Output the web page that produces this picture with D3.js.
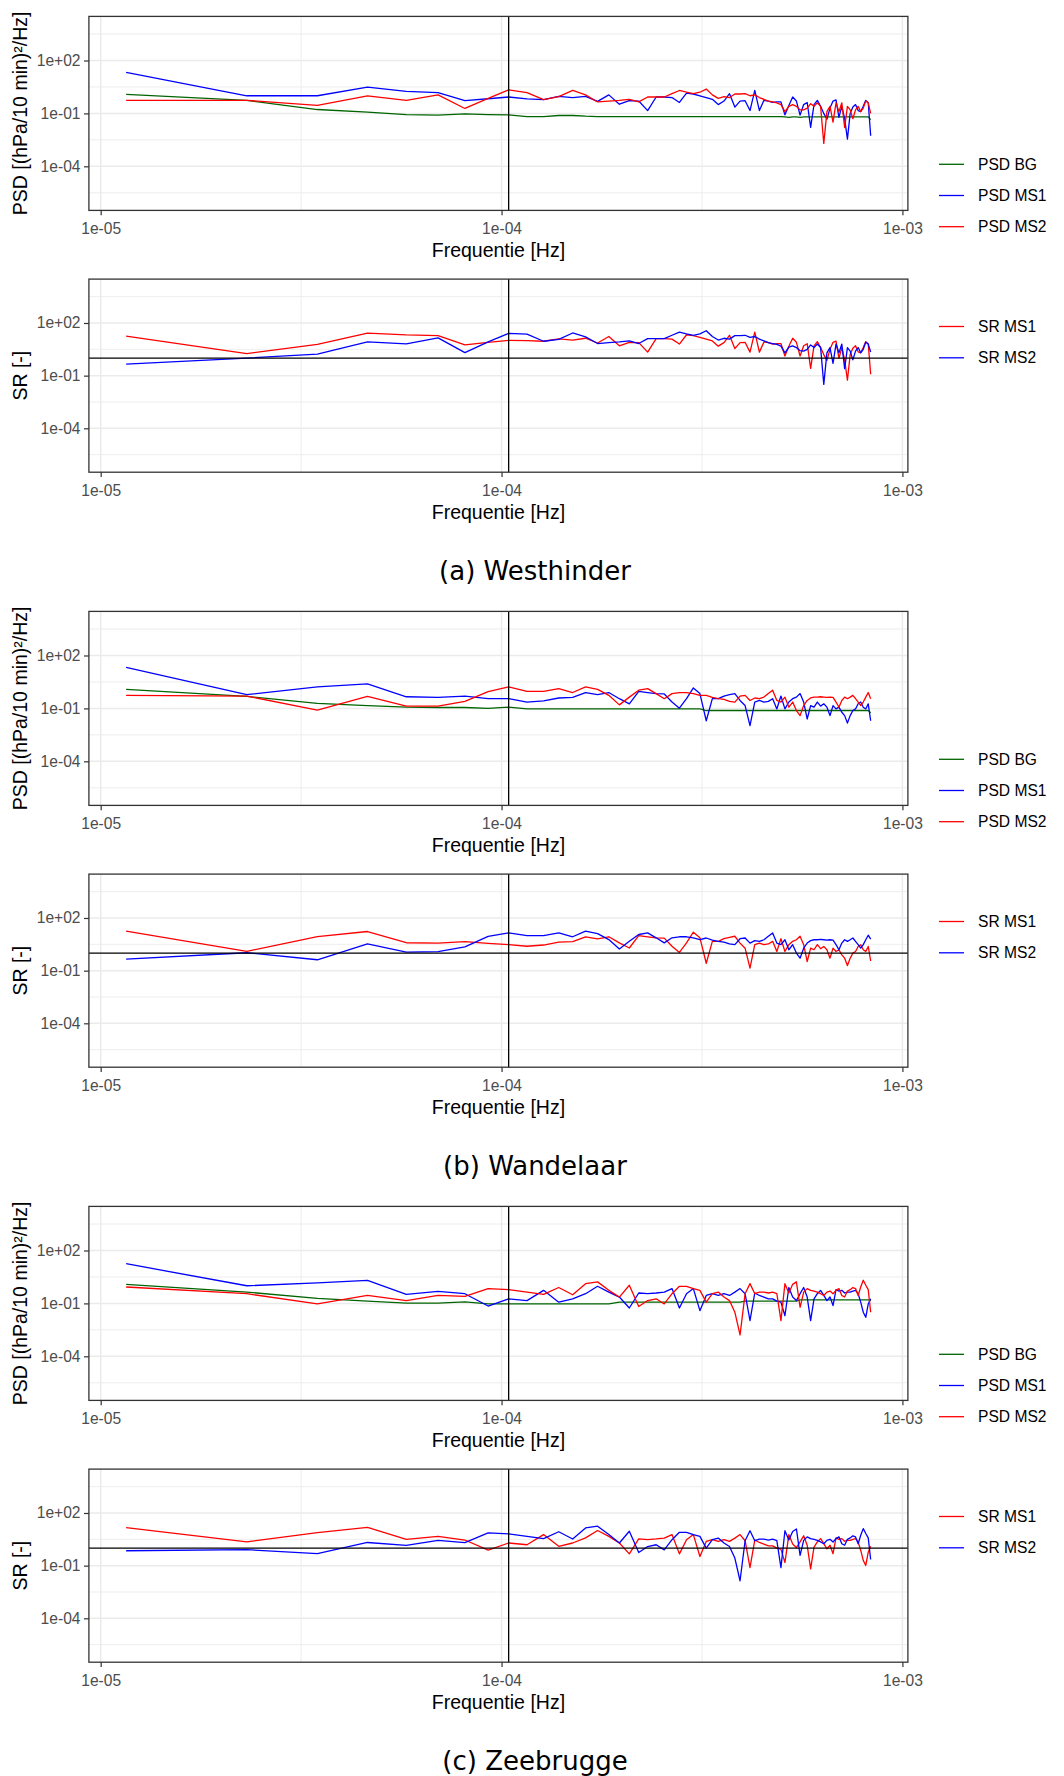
<!DOCTYPE html>
<html>
<head>
<meta charset="utf-8">
<script src="https://cdn.jsdelivr.net/npm/d3@7"></script>
<style>
  html, body { margin: 0; padding: 0; background: #ffffff; }
  svg { display: block; }
</style>
</head>
<body>
<svg id="fig" width="1064" height="1776"></svg>
<script>
// Frequency grid: harmonics of a one-day record of 10-minute values (up to Nyquist, 1/1200 Hz)
const harmonic = [
  1, 2, 3, 4, 5, 6, 7, 8, 9, 10, 11, 12, 13, 14, 15, 16, 17, 18, 19, 20,
  21, 22, 23, 24, 25, 26, 27, 28, 29, 30, 31, 32, 33, 34, 35, 36, 37, 38, 39, 40,
  41, 42, 43, 44, 45, 46, 47, 48, 49, 50, 51, 52, 53, 54, 55, 56, 57, 58, 59, 60,
  61, 62, 63, 64, 65, 66, 67, 68, 69, 70, 71, 72
];
const RECORD_SECONDS = 86400;

// PSD values, stored as log10 of (hPa/10 min)^2/Hz, one entry per harmonic
const westhinderBG = [
  0.08, -0.26, -0.78, -0.93, -1.07, -1.1, -1.03, -1.07, -1.08, -1.18,
  -1.18, -1.12, -1.12, -1.16, -1.18, -1.18, -1.18, -1.18, -1.18, -1.18,
  -1.18, -1.18, -1.18, -1.18, -1.18, -1.18, -1.18, -1.18, -1.18, -1.18,
  -1.18, -1.18, -1.18, -1.18, -1.18, -1.18, -1.18, -1.18, -1.18, -1.18,
  -1.18, -1.18, -1.18, -1.2, -1.22, -1.2, -1.2, -1.22, -1.2, -1.2,
  -1.2, -1.2, -1.2, -1.2, -1.2, -1.2, -1.2, -1.2, -1.2, -1.2,
  -1.2, -1.2, -1.2, -1.2, -1.2, -1.2, -1.2, -1.2, -1.2, -1.2,
  -1.2, -1.35
];
const westhinderMS1 = [
  1.33, 0.0, 0.0, 0.49, 0.25, 0.18, -0.28, -0.17, -0.07, -0.18,
  -0.22, -0.03, -0.1, -0.03, -0.32, 0.05, -0.48, -0.28, -0.3, -0.84,
  -0.07, -0.07, -0.1, -0.38, 0.15, 0.1, 0.0, -0.1, -0.2, -0.5,
  -0.3, 0.12, -0.64, -0.3, -0.28, -0.84, 0.3, -0.84, -0.26, -0.3,
  -0.38, -0.35, -0.35, -1.08, -0.55, -0.07, -0.3, -1.1, -0.5, -0.38,
  -1.79, -0.5, -0.26, -0.6, -1.0, -1.33, -0.7, -0.3, -0.23, -1.22,
  -0.6, -1.3, -2.46, -1.0, -0.64, -0.5, -0.84, -0.9, -0.6, -0.26,
  -0.4, -2.27
];
const westhinderMS2 = [
  -0.26, -0.26, -0.55, -0.01, -0.26, 0.05, -0.72, -0.15, 0.33, 0.18,
  -0.22, -0.05, 0.31, 0.05, -0.35, -0.3, -0.26, -0.2, -0.35, -0.07,
  -0.07, -0.07, 0.12, 0.3, 0.2, 0.12, 0.2, 0.38, 0.05, -0.15,
  -0.05, -0.1, 0.1, 0.1, 0.12, 0.0, 0.05, -0.1, -0.2, -0.3,
  -0.35, -0.4, -0.5, -0.9, -0.6, -0.5, -0.6, -0.8, -0.8, -0.7,
  -0.45, -0.6, -0.4, -0.6, -2.7, -0.9, -0.6, -1.5, -0.4, -0.9,
  -0.4, -1.8, -0.6, -0.8, -1.3, -0.8, -0.6, -0.9, -0.7, -0.3,
  -0.4, -1.0
];

const wandelaarBG = [
  0.08, -0.32, -0.72, -0.84, -0.93, -0.95, -0.95, -1.0, -0.93, -1.03,
  -1.03, -1.03, -1.03, -1.03, -1.03, -1.03, -1.03, -1.03, -1.03, -1.03,
  -1.03, -1.03, -1.03, -1.03, -1.03, -1.03, -1.03, -1.12, -1.12, -1.12,
  -1.12, -1.12, -1.12, -1.12, -1.12, -1.12, -1.12, -1.12, -1.12, -1.12,
  -1.12, -1.12, -1.12, -1.12, -1.12, -1.12, -1.12, -1.12, -1.12, -1.12,
  -1.12, -1.12, -1.12, -1.12, -1.12, -1.12, -1.12, -1.12, -1.12, -1.12,
  -1.12, -1.12, -1.12, -1.12, -1.12, -1.12, -1.12, -1.12, -1.12, -1.12,
  -1.12, -1.25
];
const wandelaarMS1 = [
  1.33, -0.22, 0.22, 0.39, -0.34, -0.38, -0.3, -0.45, -0.45, -0.64,
  -0.57, -0.41, -0.38, -0.1, -0.22, -0.1, -0.45, -0.74, -0.03, -0.1,
  -0.16, -0.18, -0.64, -0.99, -0.45, 0.16, -0.16, -1.7, -0.45, -0.45,
  -0.3, -0.22, -0.16, -0.55, -0.84, -1.98, -0.64, -0.55, -0.64, -0.6,
  -0.45, -1.03, -0.3, -1.03, -0.64, -0.45, -0.36, -0.16, -0.64, -1.6,
  -0.84, -0.93, -0.64, -0.87, -0.74, -0.93, -1.41, -0.84, -1.03, -0.93,
  -1.22, -1.41, -1.83, -1.41, -1.12, -1.03, -0.74, -0.64, -0.93, -1.03,
  -0.74, -1.7
];
const wandelaarMS2 = [
  -0.26, -0.3, -1.1, -0.32, -0.87, -0.87, -0.6, -0.05, 0.22, -0.03,
  -0.03, 0.12, -0.1, 0.22, 0.08, -0.26, -0.8, -0.36, 0.03, 0.12,
  -0.16, -0.45, -0.16, -0.1, -0.1, -0.16, -0.26, -0.26, -0.38, -0.45,
  -0.49, -0.6, -0.64, -0.3, -0.26, -0.55, -0.41, -0.45, -0.36, -0.16,
  0.03, -0.55, -0.64, -0.36, -0.93, -0.64, -1.12, -1.41, -0.84, -0.55,
  -0.41, -0.36, -0.36, -0.34, -0.36, -0.38, -0.36, -0.38, -0.64, -0.93,
  -0.55, -0.36, -0.45, -0.36, -0.26, -0.45, -0.64, -0.84, -0.64, -0.36,
  -0.1, -0.45
];

const zeebruggeBG = [
  0.08, -0.36, -0.72, -0.87, -0.99, -0.99, -0.91, -1.03, -1.03, -1.03,
  -1.03, -1.03, -1.03, -1.03, -1.03, -1.03, -0.93, -0.93, -0.93, -0.93,
  -0.93, -0.93, -0.93, -0.93, -0.93, -0.93, -0.93, -0.93, -0.93, -0.93,
  -0.93, -0.93, -0.93, -0.93, -0.87, -0.87, -0.87, -0.87, -0.87, -0.87,
  -0.87, -0.87, -0.87, -0.87, -0.87, -0.87, -0.87, -0.8, -0.8, -0.8,
  -0.8, -0.8, -0.8, -0.8, -0.8, -0.8, -0.8, -0.8, -0.8, -0.8,
  -0.8, -0.8, -0.8, -0.8, -0.8, -0.8, -0.8, -0.8, -0.8, -0.8,
  -0.8, -0.85
];
const zeebruggeMS1 = [
  1.25, 0.0, 0.16, 0.31, -0.49, -0.32, -0.45, -1.15, -0.74, -0.84,
  -0.26, -0.93, -0.74, -0.45, -0.03, -0.36, -0.64, -1.26, -0.41, -0.45,
  -0.41, -0.36, -0.16, -1.26, -0.45, -0.16, -1.41, -0.55, -0.45, -0.55,
  -0.45, -0.55, -0.36, -0.16, -0.45, -1.98, -0.41, -0.55, -0.64, -0.74,
  -0.74, -0.87, -0.93, -1.7, -0.1, -0.64, -0.84, -0.45, -0.1, -0.64,
  -1.98, -0.74, -0.45, -0.26, -0.55, -0.84, -0.64, -1.12, -0.22, -0.3,
  -0.26, -0.41, -0.36, -0.36, -0.3, -0.26, -0.45, -0.93, -1.5, -1.79,
  -1.03, -0.74
];
const zeebruggeMS2 = [
  -0.07, -0.45, -1.03, -0.55, -0.84, -0.55, -0.6, -0.16, -0.22, -0.36,
  -0.49, -0.1, -0.51, 0.12, 0.22, -0.26, -0.64, 0.03, -1.18, -0.84,
  -0.74, -1.03, -0.45, -0.03, -0.03, -0.16, -0.26, -0.93, -0.45, -0.36,
  -0.64, -0.84, -1.5, -2.79, -0.45, 0.12, -0.45, -0.36, -0.36, -0.41,
  -0.36, -0.45, -1.98, 0.12, -0.41, 0.08, 0.22, -1.22, -0.36, -0.16,
  -0.26, -0.3, -0.36, -0.45, -0.55, -0.36, -0.3, -0.45, -0.26, -0.16,
  -0.55, -0.64, -0.3, -0.22, -0.1, -0.16, -0.55, -0.07, 0.31, 0.03,
  -0.22, -1.5
];

const stationCaptions = ["(a) Westhinder", "(b) Wandelaar", "(c) Zeebrugge"];
const stationBG = [westhinderBG, wandelaarBG, zeebruggeBG];
const stationMS1 = [westhinderMS1, wandelaarMS1, zeebruggeMS1];
const stationMS2 = [westhinderMS2, wandelaarMS2, zeebruggeMS2];

const psdLegendLabels = ["PSD BG", "PSD MS1", "PSD MS2"];
const srLegendLabels = ["SR MS1", "SR MS2"];
const xTickValues = [1e-5, 1e-4, 1e-3];
const xTickLabels = ["1e-05", "1e-04", "1e-03"];
const yTickValues = [1e2, 1e-1, 1e-4];
const yTickLabels = ["1e+02", "1e-01", "1e-04"];
const xMinorValues = [Math.pow(10, -4.5), Math.pow(10, -3.5)];
const yMinorValues = [Math.pow(10, 3.5), Math.pow(10, 0.5), Math.pow(10, -2.5), Math.pow(10, -5.5)];
const yLimits = [1e-6, 1e4];
const markerFrequency = 1.0417e-4;   // 160-minute period
const srReference = 1;
const psdAxisTitle = "PSD [(hPa/10 min)\u00B2/Hz]";
const srAxisTitle = "SR [-]";
const xAxisTitle = "Frequentie [Hz]";

// ---------- styling / layout ----------
const FONT = "'Liberation Sans', Arial, Helvetica, sans-serif";
const COL_BG = "#006400", COL_MS1 = "#0000FF", COL_MS2 = "#FF0000";
const blockHeight = 595;
const panelLeft = 88.9, panelRight = 907.9;
const psdTop = 16.4, psdBottom = 210.4;
const srTop = 279.1, srBottom = 472.2;
const lineWidth = 1.3;

const frequency = harmonic.map(k => k / RECORD_SECONDS);

// log-scale x with 5% expansion around the data range (ggplot-style)
const lx0 = Math.log10(d3.min(frequency)), lx1 = Math.log10(d3.max(frequency));
const padX = 0.05 * (lx1 - lx0);
const x = d3.scaleLog()
  .domain([Math.pow(10, lx0 - padX), Math.pow(10, lx1 + padX)])
  .range([panelLeft, panelRight]);

// y limits 1e-6..1e4, expanded 5%
const ly0 = Math.log10(yLimits[0]), ly1 = Math.log10(yLimits[1]);
const padY = 0.05 * (ly1 - ly0);
const yDomain = [Math.pow(10, ly0 - padY), Math.pow(10, ly1 + padY)];

const svg = d3.select("#fig");
svg.append("rect").attr("width", 1064).attr("height", 1776).attr("fill", "#ffffff");

function drawPanel(g, top, bottom, series, refs, yTitle) {
  const y = d3.scaleLog().domain(yDomain).range([bottom, top]);

  // grid
  const grid = g.append("g");
  yMinorValues.forEach(v => grid.append("line")
    .attr("x1", panelLeft).attr("x2", panelRight).attr("y1", y(v)).attr("y2", y(v))
    .attr("stroke", "#EBEBEB").attr("stroke-width", 0.9));
  xMinorValues.forEach(v => grid.append("line")
    .attr("x1", x(v)).attr("x2", x(v)).attr("y1", top).attr("y2", bottom)
    .attr("stroke", "#EBEBEB").attr("stroke-width", 0.9));
  yTickValues.forEach(v => grid.append("line")
    .attr("x1", panelLeft).attr("x2", panelRight).attr("y1", y(v)).attr("y2", y(v))
    .attr("stroke", "#EBEBEB").attr("stroke-width", 1.5));
  xTickValues.forEach(v => grid.append("line")
    .attr("x1", x(v)).attr("x2", x(v)).attr("y1", top).attr("y2", bottom)
    .attr("stroke", "#EBEBEB").attr("stroke-width", 1.5));

  // data lines
  const line = d3.line().x(d => x(d[0])).y(d => y(d[1]));
  series.forEach(s => {
    g.append("path")
      .datum(frequency.map((f, i) => [f, s.values[i]]))
      .attr("d", line)
      .attr("fill", "none")
      .attr("stroke", s.color)
      .attr("stroke-width", lineWidth)
      .attr("stroke-linejoin", "round");
  });

  // reference lines
  g.append("line")
    .attr("x1", x(markerFrequency)).attr("x2", x(markerFrequency))
    .attr("y1", top).attr("y2", bottom)
    .attr("stroke", "#000").attr("stroke-width", 1.3);
  if (refs.hline !== undefined) {
    g.append("line")
      .attr("x1", panelLeft).attr("x2", panelRight)
      .attr("y1", y(refs.hline)).attr("y2", y(refs.hline))
      .attr("stroke", "#000").attr("stroke-width", 1.3);
  }

  // panel border
  g.append("rect")
    .attr("x", panelLeft).attr("y", top)
    .attr("width", panelRight - panelLeft).attr("height", bottom - top)
    .attr("fill", "none").attr("stroke", "#333333").attr("stroke-width", 1.3);

  // axes
  const xAxis = d3.axisBottom(x).tickValues(xTickValues)
    .tickFormat((d, i) => xTickLabels[i]).tickSize(4.9).tickPadding(7.5).tickSizeOuter(0);
  const gx = g.append("g").attr("transform", `translate(0,${bottom})`).call(xAxis);
  const yAxis = d3.axisLeft(y).tickValues(yTickValues)
    .tickFormat((d, i) => yTickLabels[i]).tickSize(4.9).tickPadding(3.5).tickSizeOuter(0);
  const gy = g.append("g").attr("transform", `translate(${panelLeft},0)`).call(yAxis);
  [gx, gy].forEach(a => {
    a.select(".domain").remove();
    a.selectAll(".tick line").attr("stroke", "#333333").attr("stroke-width", 1.2);
    a.selectAll(".tick text").attr("fill", "#4D4D4D")
      .style("font-family", FONT).style("font-size", "15.6px");
  });

  // axis titles
  g.append("text")
    .attr("x", (panelLeft + panelRight) / 2).attr("y", bottom + 47)
    .attr("text-anchor", "middle")
    .style("font-family", FONT).style("font-size", "19.5px").attr("fill", "#000")
    .text(xAxisTitle);
  g.append("text")
    .attr("transform", `translate(27,${(top + bottom) / 2}) rotate(-90)`)
    .attr("text-anchor", "middle")
    .style("font-family", FONT).style("font-size", "19.5px").attr("fill", "#000")
    .text(yTitle);

  return y;
}

function drawLegend(g, centerYs, labels, colors) {
  labels.forEach((lab, i) => {
    const cy = centerYs[i];
    g.append("line")
      .attr("x1", 939).attr("x2", 964).attr("y1", cy).attr("y2", cy)
      .attr("stroke", colors[i]).attr("stroke-width", lineWidth);
    g.append("text")
      .attr("x", 978).attr("y", cy + 5.6)
      .style("font-family", FONT).style("font-size", "15.6px").attr("fill", "#000")
      .text(lab);
  });
}

stationCaptions.forEach((caption, s) => {
  const g = svg.append("g").attr("transform", `translate(0,${s * blockHeight})`);
  const bg = stationBG[s].map(v => Math.pow(10, v));
  const ms1 = stationMS1[s].map(v => Math.pow(10, v));
  const ms2 = stationMS2[s].map(v => Math.pow(10, v));
  // signal ratio of each mast against the background spectrum
  const sr1 = ms1.map((v, i) => v / bg[i]);
  const sr2 = ms2.map((v, i) => v / bg[i]);

  drawPanel(g, psdTop, psdBottom, [
    { values: bg, color: COL_BG },
    { values: ms1, color: COL_MS1 },
    { values: ms2, color: COL_MS2 }
  ], {}, psdAxisTitle);
  drawLegend(g, [164.3, 195.5, 226.7], psdLegendLabels, [COL_BG, COL_MS1, COL_MS2]);

  drawPanel(g, srTop, srBottom, [
    { values: sr1, color: COL_MS2 },
    { values: sr2, color: COL_MS1 }
  ], { hline: srReference }, srAxisTitle);
  drawLegend(g, [326.5, 357.8], srLegendLabels, [COL_MS2, COL_MS1]);

  g.append("text")
    .attr("x", 535).attr("y", 580)
    .attr("text-anchor", "middle")
    .style("font-family", "'DejaVu Sans', sans-serif").style("font-size", "26px").attr("fill", "#000")
    .text(caption);
});
</script>
</body>
</html>
